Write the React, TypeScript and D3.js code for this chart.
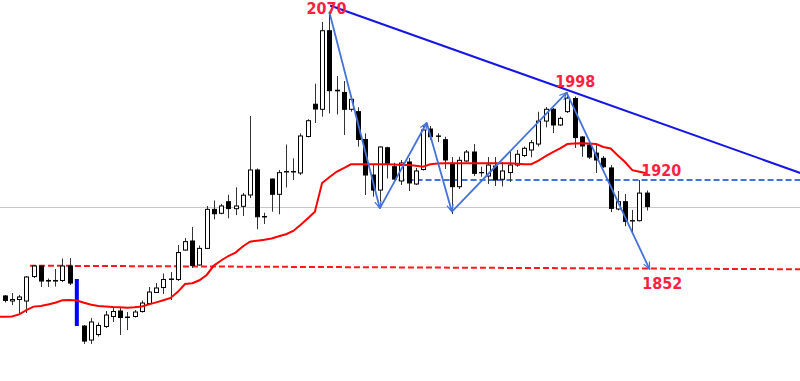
import React from "react";
import * as d3 from "d3";

const W = 800;
const H = 381;

// OHLC per candle (candles 0..88); slot 10 is a gap marker
const candleOpen = [
  1816.6, 1812.1, 1813.4, 1812.1, 1833.9, 1843.3, 1830.4, 1829.9, 1830.4, 1843.3,
  1789.8, 1777.3, 1782.2, 1789.4, 1798.3, 1803.2, 1797.4, 1798.3, 1802.7, 1809.9,
  1819.7, 1824.1, 1831.3, 1831.3, 1857.5, 1865.6, 1844.2, 1859.0, 1893.8, 1890.3,
  1900.6, 1894.4, 1896.5, 1906.6, 1928.9, 1887.4, 1920.8, 1907.2, 1927.1, 1927.5,
  1926.2, 1958.7, 1987.5, 1983.0, 2053.0, 2000.0, 1998.0, 1983.0, 1980.9, 1956.1,
  1924.4, 1911.0, 1948.7, 1931.8, 1919.1, 1936.0, 1916.4, 1929.3, 1965.4, 1959.2,
  1955.9, 1934.8, 1914.0, 1936.9, 1944.9, 1926.6, 1923.5, 1932.4, 1920.6, 1926.6,
  1933.3, 1941.8, 1946.7, 1952.0, 1972.5, 1983.0, 1969.0, 1980.9, 1992.6, 1958.3,
  1951.1, 1943.9, 1939.3, 1930.7, 1894.1, 1900.6, 1883.7, 1883.7, 1908.3,
];
const candleHigh = [
  1817.5, 1819.2, 1817.5, 1834.4, 1844.2, 1844.2, 1832.1, 1840.6, 1850.0, 1850.4,
  1790.7, 1796.9, 1792.9, 1803.2, 1805.8, 1806.8, 1802.3, 1804.1, 1812.5, 1824.6,
  1828.1, 1836.6, 1837.9, 1862.0, 1868.2, 1878.1, 1861.6, 1896.8, 1901.7, 1898.6,
  1906.8, 1913.4, 1908.4, 1977.0, 1930.2, 1890.8, 1921.3, 1928.9, 1951.6, 1939.3,
  1961.5, 1974.1, 2005.8, 2060.8, 2070.0, 2012.6, 2008.2, 1994.2, 1984.8, 1961.5,
  1933.2, 1949.8, 1949.6, 1935.3, 1937.8, 1939.6, 1930.7, 1968.5, 1968.1, 1961.6,
  1958.5, 1940.4, 1940.7, 1946.7, 1952.0, 1931.8, 1940.5, 1940.5, 1936.0, 1944.9,
  1946.7, 1949.8, 1955.6, 1980.8, 1985.0, 1984.1, 1976.5, 1998.0, 1994.4, 1959.2,
  1952.9, 1952.9, 1941.3, 1933.3, 1910.1, 1907.5, 1893.3, 1919.9, 1910.6,
];
const candleLow = [
  1810.8, 1808.5, 1801.4, 1801.4, 1832.6, 1824.6, 1824.6, 1825.0, 1829.0, 1826.3,
  1773.8, 1773.8, 1780.4, 1788.0, 1793.4, 1781.8, 1786.2, 1797.4, 1801.8, 1809.0,
  1819.2, 1818.3, 1813.0, 1829.9, 1856.9, 1841.5, 1843.6, 1858.4, 1884.9, 1889.4,
  1885.8, 1888.7, 1887.9, 1903.9, 1876.0, 1880.7, 1891.7, 1889.4, 1913.3, 1920.0,
  1924.4, 1958.0, 1970.8, 1976.4, 1979.3, 1978.3, 1960.1, 1980.9, 1949.7, 1906.6,
  1905.1, 1900.8, 1921.3, 1920.0, 1915.5, 1910.1, 1915.5, 1928.4, 1955.6, 1953.8,
  1929.8, 1889.6, 1911.9, 1936.0, 1923.5, 1922.9, 1916.4, 1914.6, 1914.2, 1918.2,
  1931.8, 1940.4, 1940.2, 1949.8, 1966.9, 1961.8, 1968.1, 1979.7, 1948.5, 1940.6,
  1938.7, 1926.2, 1930.7, 1891.4, 1892.8, 1878.9, 1871.8, 1883.0, 1892.8,
];
const candleClose = [
  1812.6, 1813.4, 1815.7, 1833.5, 1843.3, 1829.9, 1829.9, 1830.4, 1843.3, 1828.1,
  1776.4, 1793.4, 1790.3, 1799.6, 1802.7, 1797.4, 1797.8, 1802.3, 1810.3, 1820.1,
  1823.7, 1831.3, 1831.7, 1855.3, 1865.0, 1843.7, 1859.0, 1893.8, 1889.9, 1896.8,
  1894.5, 1896.8, 1906.4, 1928.9, 1887.2, 1887.0, 1907.2, 1926.5, 1927.5, 1927.1,
  1959.2, 1972.8, 1983.2, 2053.0, 1999.6, 1999.4, 1983.0, 1991.9, 1956.1, 1924.4,
  1911.0, 1949.4, 1934.9, 1920.8, 1935.1, 1917.3, 1928.0, 1964.5, 1958.5, 1958.9,
  1937.8, 1914.0, 1937.5, 1944.9, 1925.9, 1926.4, 1933.3, 1920.0, 1928.0, 1933.3,
  1942.9, 1948.2, 1953.2, 1972.5, 1983.0, 1969.0, 1974.9, 1993.0, 1957.8, 1950.3,
  1940.4, 1937.8, 1931.8, 1894.7, 1900.6, 1883.1, 1883.4, 1908.3, 1896.3,
];

// moving average per slot (0..89)
const maValues = [
  1798.1, 1798.3, 1800.2, 1803.9, 1807.1, 1807.6, 1809.0, 1810.5, 1812.7, 1813.0,
  1812.6, 1810.5, 1808.8, 1807.6, 1807.2, 1806.7, 1806.5, 1806.1, 1806.5, 1807.2,
  1809.1, 1810.9, 1812.8, 1814.8, 1820.3, 1827.2, 1828.0, 1830.6, 1835.3, 1843.7,
  1848.2, 1852.2, 1855.3, 1860.7, 1865.0, 1865.9, 1866.7, 1867.8, 1869.8, 1871.6,
  1874.5, 1879.8, 1885.6, 1891.7, 1917.3, 1922.4, 1927.3, 1930.6, 1933.9, 1934.1,
  1934.1, 1934.1, 1934.1, 1934.1, 1933.7, 1933.3, 1933.3, 1932.6, 1931.8, 1934.0,
  1934.6, 1934.8, 1934.8, 1934.8, 1934.8, 1934.8, 1934.8, 1934.8, 1934.8, 1934.8,
  1934.8, 1934.4, 1934.0, 1934.0, 1937.2, 1941.3, 1944.9, 1948.2, 1952.0, 1952.5,
  1952.7, 1952.5, 1952.0, 1949.4, 1948.0, 1941.8, 1936.0, 1928.7, 1927.3, 1925.9,
];

const gapSlot = 10;
const gapFrom = 1831.7;
const gapTo = 1789.8;

// zigzag
const zigSlots = [45.0, 52.0, 58.5, 62.0, 77.9, 89.4];
const zigPrices = [2070, 1894.7, 1971.0, 1891.7, 1997.9, 1840.4];

// trend line
const trendSlots = [45.1, 110.3];
const trendPrices = [2075.5, 1926.2];

// levels
const blueLevel = { from: 54.6, to: 110.3, price: 1920.4 };
const redLevelSlots = [3.5, 110.3];
const redLevelPrices = [1843.6, 1840.4];
const currentPrice = 1896.2;

// labels
const labelTexts = ["2070", "1998", "1920", "1852"];
const labelSlots = [44.6, 79.1, 91.0, 91.15];
const labelPrices = [2067.9, 2003.1, 1923.5, 1822.5];

const x = d3.scaleLinear().domain([0, 89]).range([4.7, 646.7]);
const y = d3.scaleLinear().domain([1740.8, 2080.4]).range([H, 0]);

const slotOf = (i: number) => (i < gapSlot ? i : i + 1);

export default function App() {
  const maLine = d3
    .line<number>()
    .x((_, i) => x(i))
    .y((d) => y(d));
  const maPath = `M0,${y(maValues[0])}L` + (maLine(maValues) || "").slice(1);

  const zigPts = zigSlots.map((s, i) => [x(s), y(zigPrices[i])]);

  return (
    <svg
      width={W}
      height={H}
      style={{ position: "absolute", left: 0, top: 0, display: "block", background: "#fff" }}
    >
      <defs>
        <marker
          id="arr"
          viewBox="0 0 10 10"
          refX="9"
          refY="5"
          markerWidth="8"
          markerHeight="8"
          markerUnits="userSpaceOnUse"
          orient="auto"
        >
          <path d="M0,1 L9,5 L0,9" fill="none" stroke="#4472D8" strokeWidth="1.5" />
        </marker>
      </defs>

      {/* current price line */}
      <line x1={0} x2={W} y1={Math.round(y(currentPrice)) + 0.5} y2={Math.round(y(currentPrice)) + 0.5} stroke="#c8c8c8" strokeWidth={1} />

      {/* red dashed level */}
      <line
        x1={x(redLevelSlots[0])}
        x2={x(redLevelSlots[1])}
        y1={y(redLevelPrices[0])}
        y2={y(redLevelPrices[1])}
        stroke="#ff1a1a"
        strokeWidth={2}
        strokeDasharray="6,3"
      />

      {/* blue dashed level */}
      <line
        x1={x(blueLevel.from)}
        x2={x(blueLevel.to)}
        y1={Math.round(y(blueLevel.price))}
        y2={Math.round(y(blueLevel.price))}
        stroke="#4472D8"
        strokeWidth={2}
        strokeDasharray="6,3"
      />

      {/* candles */}
      {candleOpen.map((o, i) => {
        const c = candleClose[i];
        const hi = candleHigh[i];
        const lo = candleLow[i];
        const cx = Math.round(x(slotOf(i)));
        const top = y(Math.max(o, c));
        const bot = y(Math.min(o, c));
        const bull = c >= o;
        return (
          <g key={i}>
            <line x1={cx + 0.5} x2={cx + 0.5} y1={y(hi)} y2={y(lo)} stroke="#333" strokeWidth={1} />
            <rect
              x={cx - 1.5}
              y={top}
              width={4}
              height={Math.max(0.01, bot - top)}
              fill={bull ? "#fff" : "#000"}
              stroke="#000"
              strokeWidth={1}
            />
          </g>
        );
      })}

      {/* gap marker */}
      <line
        x1={x(gapSlot)}
        x2={x(gapSlot)}
        y1={y(gapFrom)}
        y2={y(gapTo)}
        stroke="#0000ff"
        strokeWidth={4}
      />

      {/* moving average */}
      <path d={maPath} fill="none" stroke="#ff0000" strokeWidth={2} />

      {/* trend line */}
      <line
        x1={x(trendSlots[0])}
        x2={x(trendSlots[1])}
        y1={y(trendPrices[0])}
        y2={y(trendPrices[1])}
        stroke="#1515e6"
        strokeWidth={2}
      />

      {/* zigzag */}
      {zigPts.slice(1).map((p, i) => (
        <line
          key={i}
          x1={zigPts[i][0]}
          y1={zigPts[i][1]}
          x2={p[0]}
          y2={p[1]}
          stroke="#4472D8"
          strokeWidth={1.8}
          markerEnd="url(#arr)"
        />
      ))}

      {/* labels */}
      {labelTexts.map((t, i) => (
        <text
          key={t}
          x={x(labelSlots[i])}
          y={y(labelPrices[i])}
          textAnchor="middle"
          fontFamily="DejaVu Sans"
          fontWeight="bold"
          fontSize={16}
          textLength={40}
          lengthAdjust="spacingAndGlyphs"
          fill="#ff1f3f"
        >
          {t}
        </text>
      ))}
    </svg>
  );
}
